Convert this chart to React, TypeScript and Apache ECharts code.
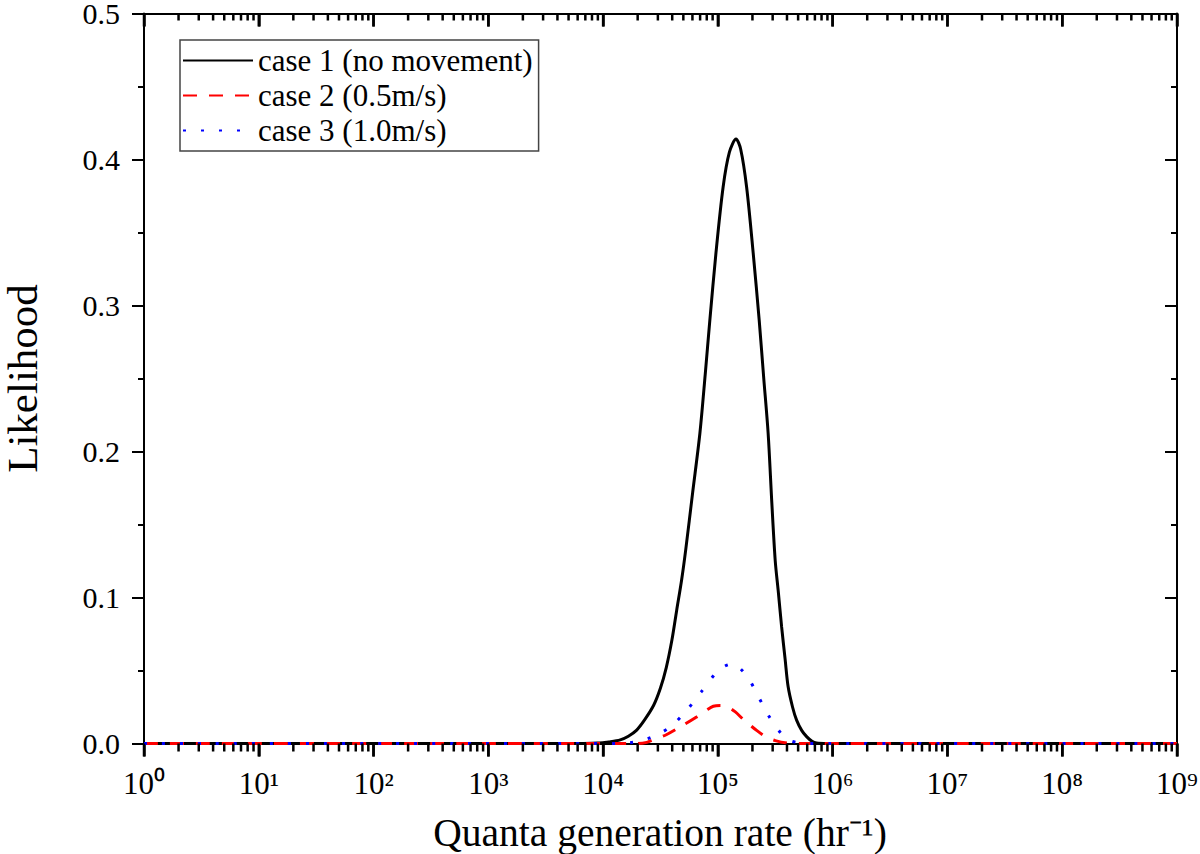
import React, { useEffect, useRef } from "react";
import * as echarts from "echarts";

const FONT = "'Liberation Serif', 'Times New Roman', serif";

const seriesNames = ["case 1 (no movement)", "case 2 (0.5m/s)", "case 3 (1.0m/s)"];
const xTitle = "Quanta generation rate (hr\u207B\u00B9)";
const yTitle = "Likelihood";

// case 1: rate (hr^-1) and likelihood
const rate1 = [1, 1e3, 6.31e3, 8.9e3, 1.0e4, 1.12e4, 1.41e4, 1.66e4, 1.95e4, 2.29e4, 2.75e4, 3.16e4, 3.55e4, 3.98e4, 4.37e4, 4.83e4, 5.25e4, 6.03e4, 6.97e4, 7.76e4, 8.51e4, 9.62e4, 1.11e5, 1.26e5, 1.44e5, 1.58e5, 1.78e5, 2.03e5, 2.29e5, 2.51e5, 2.74e5, 2.95e5, 3.16e5, 3.35e5, 3.59e5, 3.85e5, 4.09e5, 4.47e5, 4.85e5, 5.37e5, 5.93e5, 6.61e5, 7.24e5, 8.91e5, 1e7, 1e9];
const like1 = [0, 0, 0, 0.0003, 0.0006, 0.001, 0.0025, 0.005, 0.009, 0.016, 0.026, 0.038, 0.052, 0.071, 0.091, 0.112, 0.133, 0.172, 0.2125, 0.253, 0.29, 0.336, 0.381, 0.405, 0.414, 0.407, 0.381, 0.336, 0.29, 0.25, 0.2125, 0.165, 0.125, 0.105, 0.08, 0.058, 0.039, 0.025, 0.016, 0.009, 0.0047, 0.0015, 0.0003, 0, 0, 0];

// case 2
const rate2 = [1, 1e3, 2.0e4, 2.4e4, 2.82e4, 3.55e4, 5.01e4, 6.46e4, 7.94e4, 9.12e4, 1.05e5, 1.2e5, 1.41e5, 1.66e5, 2.19e5, 2.63e5, 3.16e5, 3.98e5, 5.01e5, 1e7, 1e9];
const like2 = [0, 0, 0, 0.0008, 0.003, 0.006, 0.0127, 0.018, 0.0228, 0.0255, 0.026, 0.0253, 0.0218, 0.0166, 0.0088, 0.0045, 0.002, 0.0003, 0, 0, 0];

// case 3
const rate3 = [1, 1e3, 1.32e4, 1.86e4, 2.7e4, 3.85e4, 5.43e4, 7.16e4, 9.55e4, 1.15e5, 1.36e5, 1.58e5, 1.87e5, 2.28e5, 2.75e5, 3.55e5, 4.27e5, 5.13e5, 6.31e5, 1e7, 1e9];
const like3 = [0, 0, 0, 0.001, 0.0046, 0.0114, 0.0234, 0.0354, 0.048, 0.053, 0.0545, 0.051, 0.044, 0.0314, 0.0194, 0.007, 0.002, 0.0005, 0, 0, 0];

// x-axis tick values
const majorTicks = [1, 10, 100, 1e3, 1e4, 1e5, 1e6, 1e7, 1e8, 1e9];
const minorMultipliers = [2, 3, 4, 5, 6, 7, 8, 9];

const SUP = ["\u2070", "\u00B9", "\u00B2", "\u00B3", "\u2074", "\u2075", "\u2076", "\u2077", "\u2078", "\u2079"];

const pair = (xs: number[], ys: number[]) => xs.map((x, i) => [x, ys[i]]);

export default function App() {
  const ref = useRef<HTMLDivElement>(null);
  useEffect(() => {
    if (!ref.current) return;
    const chart = echarts.init(ref.current, undefined, { renderer: "svg" });

    const mkLine = () => ({ show: true, onZero: false, lineStyle: { color: "#000", width: 2 } });
    const option: any = {
      animation: false,
      grid: { left: 144, right: 23, top: 13.5, bottom: 110.5, outerBoundsMode: "none" },
      legend: {
        data: seriesNames,
        orient: "vertical",
        left: 180,
        top: 40,
        padding: [5, 6, 5, 2],
        itemGap: 4,
        itemWidth: 70,
        itemHeight: 14,
        borderColor: "#444",
        borderWidth: 1.5,
        itemStyle: { opacity: 0 },
        textStyle: { fontFamily: FONT, fontSize: 31, color: "#000", lineHeight: 30 },
      },
      xAxis: [
        {
          type: "log",
          min: 1,
          max: 1e9,
          splitNumber: 9,
          position: "bottom",
          axisLine: mkLine(),
          axisTick: { show: true, inside: false, length: 13, lineStyle: { color: "#000", width: 2.5 } },
          splitLine: { show: false },
          axisLabel: {
            margin: 24,
            color: "#000",
            fontFamily: FONT,
            fontSize: 31,
            formatter: (v: number) => "10" + SUP[Math.round(Math.log10(v))],
          },
        },
        {
          type: "log",
          min: 1,
          max: 1e9,
          splitNumber: 9,
          position: "top",
          axisLine: mkLine(),
          axisTick: { show: true, inside: true, length: 13, lineStyle: { color: "#000", width: 2.5 } },
          axisLabel: { show: false },
          splitLine: { show: false },
        },
      ],
      yAxis: [
        {
          type: "value",
          min: 0,
          max: 0.5,
          interval: 0.1,
          position: "left",
          axisLine: mkLine(),
          axisTick: { show: true, inside: false, length: 12, lineStyle: { color: "#000", width: 2 } },
          minorTick: { show: true, splitNumber: 2, length: 6, lineStyle: { color: "#000", width: 2 } },
          splitLine: { show: false },
          axisLabel: {
            margin: 24,
            fontFamily: FONT,
            fontSize: 30,
            lineHeight: 24,
            color: "#000",
            formatter: (v: number) => v.toFixed(1),
          },
          name: yTitle,
          nameLocation: "middle",
          nameGap: 104,
          nameTextStyle: { fontFamily: FONT, fontSize: 43, lineHeight: 36, color: "#000" },
        },
        {
          type: "value",
          min: 0,
          max: 0.5,
          interval: 0.1,
          position: "right",
          axisLine: mkLine(),
          axisTick: { show: true, inside: true, length: 12, lineStyle: { color: "#000", width: 2 } },
          minorTick: { show: true, splitNumber: 2, length: 6, lineStyle: { color: "#000", width: 2 } },
          splitLine: { show: false },
          axisLabel: { show: false },
        },
      ],
      series: [
        {
          name: seriesNames[0],
          type: "line",
          data: pair(rate1, like1),
          showSymbol: false,
          symbol: "none",
          smooth: 0.3,
          lineStyle: { color: "#000", width: 3, type: "solid" },
          itemStyle: { color: "#000" },
          z: 3,
        },
        {
          name: seriesNames[1],
          type: "line",
          data: pair(rate2, like2),
          showSymbol: false,
          symbol: "none",
          smooth: 0.3,
          lineStyle: { color: "#ff0000", width: 3, type: [14, 12] },
          itemStyle: { color: "#ff0000" },
          z: 4,
        },
        {
          name: seriesNames[2],
          type: "line",
          data: pair(rate3, like3),
          showSymbol: false,
          symbol: "none",
          smooth: 0.3,
          lineStyle: { color: "#0000ff", width: 3, type: [3, 15] },
          itemStyle: { color: "#0000ff" },
          z: 5,
        },
      ],
    };
    try {
      chart.setOption(option);
    } catch (e) {
      // keep going so the decorations below are still drawn
    }

    // x-axis title and ticks (bottom outward, top inward), ticks positioned through the chart's own scales
    const elements: any[] = [
      {
        type: "text",
        silent: true,
        z: 100,
        x: 660,
        y: 833,
        style: {
          text: xTitle,
          fontFamily: FONT,
          fontSize: 39.5,
          fill: "#000",
          align: "center",
          verticalAlign: "middle",
        },
      },
    ];
    const toPx = (v: number, y: number): number[] | null => {
      try {
        const p: any = chart.convertToPixel({ seriesIndex: 0 }, [v, y]);
        return Array.isArray(p) && isFinite(p[0]) && isFinite(p[1]) ? p : null;
      } catch (e) {
        return null;
      }
    };
    const addTick = (v: number, lenB: number, lenT: number) => {
      const pb = toPx(v, 0);
      const pt = toPx(v, 0.5);
      if (!pb || !pt) return;
      elements.push({ type: "line", silent: true, z: 100, shape: { x1: pb[0], y1: pb[1], x2: pb[0], y2: pb[1] + lenB }, style: { stroke: "#000", lineWidth: 2.5 } });
      elements.push({ type: "line", silent: true, z: 100, shape: { x1: pt[0], y1: pt[1], x2: pt[0], y2: pt[1] + lenT }, style: { stroke: "#000", lineWidth: 2.5 } });
    };
    majorTicks.forEach((d) => addTick(d, 13, 13));
    majorTicks.slice(0, -1).forEach((d) => minorMultipliers.forEach((m) => addTick(d * m, 8, 7)));
    try {
      chart.setOption({ graphic: elements });
    } catch (e) {
      // ignore
    }

    return () => chart.dispose();
  }, []);
  return (
    <div
      ref={ref}
      style={{ position: "absolute", left: 0, top: 0, width: 1200, height: 854 }}
    />
  );
}
